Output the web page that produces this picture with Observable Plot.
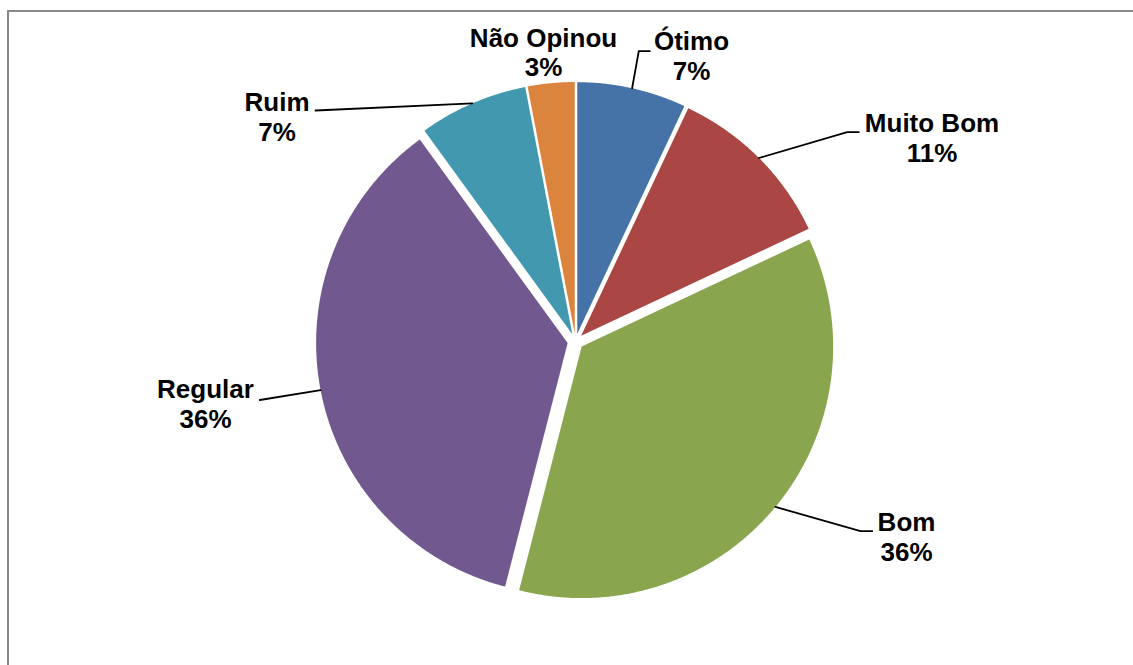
<!DOCTYPE html>
<html>
<head>
<meta charset="utf-8">
<script src="https://cdn.jsdelivr.net/npm/d3@7"></script>
<script src="https://cdn.jsdelivr.net/npm/@observablehq/plot@0.6"></script>
<style>
  html, body { margin: 0; padding: 0; background: #ffffff; overflow: hidden; }
  #wrap { position: relative; width: 1133px; height: 665px; }
  #wrap svg { position: absolute; left: 0; top: 0; }
  #border {
    position: absolute; left: 7px; top: 10px; width: 1160px; height: 700px;
    border: 2px solid #888888; pointer-events: none;
  }
</style>
</head>
<body>
<div id="wrap"><div id="border"></div></div>
<script>
// Survey answers and their shares (%)
const categories = ["Ótimo", "Muito Bom", "Bom", "Regular", "Ruim", "Não Opinou"];
const percentages = [7, 11, 36, 36, 7, 3];

// Slice colours, in category order
const sliceColors = ["#4572A7", "#AA4643", "#89A54E", "#71588F", "#4198AF", "#DB843D"];

// Layout, in units of the pie radius (pie centre at 0,0; y grows downward)
const W = 1133, H = 665;
const R = 251.5;              // pie radius in pixels
const CX = 575, CY = 341;     // pie centre in pixels
const explode = 8 / R;        // every slice pulled out from the centre

// label block centre for each category
const labelPos = {
  "Ótimo":      [0.4612, -1.1384],
  "Muito Bom":  [1.4175, -0.8111],
  "Bom":        [1.3161,  0.7753],
  "Regular":    [-1.4712, 0.2453],
  "Ruim":       [-1.1869, -0.8946],
  "Não Opinou": [-0.1272, -1.1515]
};
// leader line path from the slice to the label (elbow, then end point)
const leaderPath = {
  "Ótimo":     [[0.2517, -1.1543], [0.2954, -1.1543]],
  "Muito Bom": [[1.0803, -0.8322], [1.1264, -0.8322]],
  "Bom":       [[1.1332,  0.7543], [1.1797,  0.7543]],
  "Regular":   [[-1.2553, 0.2326]],
  "Ruim":      [[-1.0338, -0.9185]]
};

const rows = categories.map((name, i) => ({name, value: percentages[i]}));
const arcs = d3.pie().sort(null).value(d => d.value)(rows);

// polygon outline of each exploded slice
const slicePoints = [];
for (const a of arcs) {
  const mid = (a.startAngle + a.endAngle) / 2;
  const ox = explode * Math.sin(mid), oy = -explode * Math.cos(mid);
  slicePoints.push({name: a.data.name, x: ox, y: oy});
  const n = Math.max(8, Math.ceil((a.endAngle - a.startAngle) / 0.005));
  for (let k = 0; k <= n; ++k) {
    const t = a.startAngle + (a.endAngle - a.startAngle) * k / n;
    slicePoints.push({name: a.data.name, x: ox + Math.sin(t), y: oy - Math.cos(t)});
  }
}

// leader lines start at the middle of each slice's outer arc
const leaderPoints = [];
for (const a of arcs) {
  const path = leaderPath[a.data.name];
  if (!path) continue;
  const mid = (a.startAngle + a.endAngle) / 2;
  const rr = 1 + explode;
  leaderPoints.push({name: a.data.name, x: rr * Math.sin(mid), y: -rr * Math.cos(mid)});
  for (const [x, y] of path) leaderPoints.push({name: a.data.name, x, y});
}

const labels = rows.map(d => ({
  name: d.name,
  text: `${d.name}\n${d.value}%`,
  x: labelPos[d.name][0],
  y: labelPos[d.name][1]
}));

const fontFamily = "'Liberation Sans', Arial, Helvetica, sans-serif";

const chart = Plot.plot({
  width: W,
  height: H,
  margin: 0,
  style: {fontFamily, background: "transparent"},
  x: {domain: [-CX / R, (W - CX) / R], range: [0, W], axis: null},
  y: {domain: [-CY / R, (H - CY) / R], range: [0, H], axis: null},
  color: {domain: categories, range: sliceColors},
  marks: [
    Plot.line(slicePoints, {x: "x", y: "y", z: "name", fill: "name", stroke: null, curve: "linear-closed"}),
    Plot.line(leaderPoints, {x: "x", y: "y", z: "name", stroke: "#000000", strokeWidth: 1.8}),
    Plot.text(labels, {
      x: "x", y: "y", text: "text",
      fontSize: 26, fontWeight: "bold", fontFamily,
      lineHeight: 30 / 26, fill: "#000000", textAnchor: "middle"
    })
  ]
});

document.getElementById("wrap").prepend(chart);
</script>
</body>
</html>
